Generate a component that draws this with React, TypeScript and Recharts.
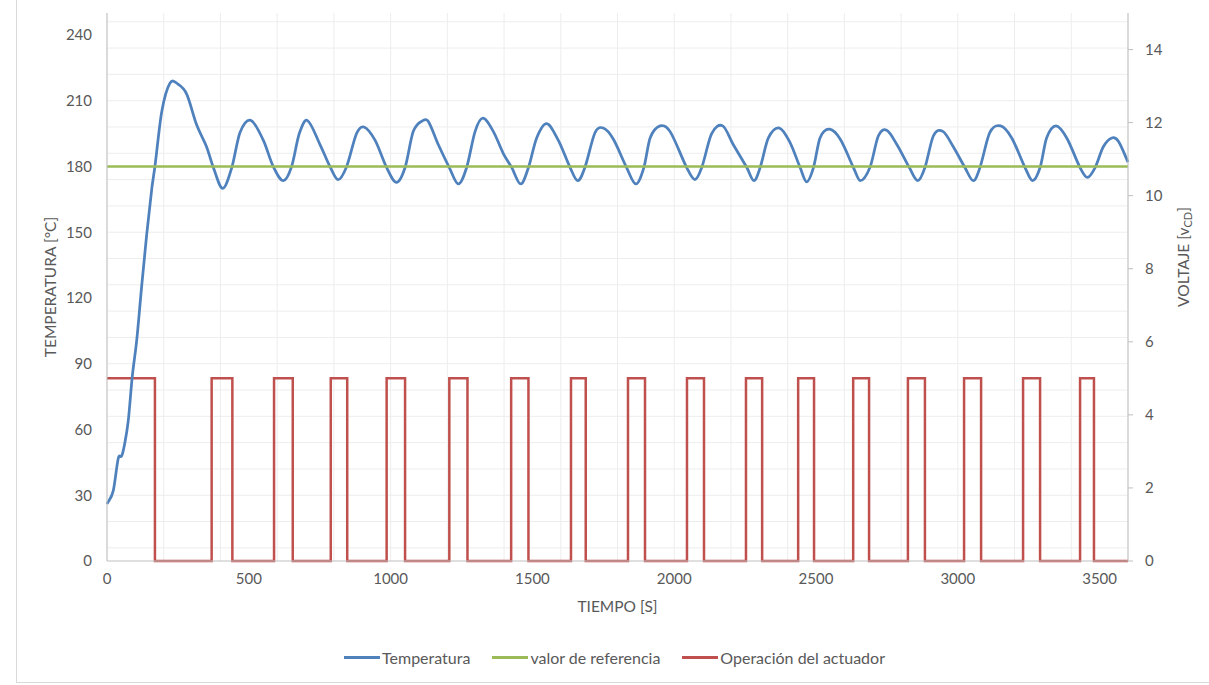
import React from "react";
import { LineChart, Line, XAxis, YAxis, CartesianGrid, Legend, Label } from "recharts";

// tiempo [s] y temperatura [°C]
const tempTime = [
  0, 22, 40, 52, 63, 75, 89, 105, 122, 140, 158, 169, 193, 222, 251, 281, 316, 351, 375, 408,
  440, 469, 507, 551, 586, 622, 651, 678, 706, 751, 786, 815, 845, 880, 906, 945, 986, 1021, 1051, 1080,
  1115, 1133, 1168, 1207, 1239, 1268, 1298, 1325, 1362, 1397, 1427, 1459, 1486, 1515, 1550, 1591, 1633, 1660, 1685, 1721,
  1750, 1785, 1832, 1865, 1893, 1915, 1950, 1985, 2044, 2073, 2097, 2132, 2171, 2208, 2256, 2281, 2303, 2332, 2371, 2408,
  2444, 2467, 2491, 2514, 2547, 2585, 2632, 2656, 2690, 2720, 2749, 2785, 2829, 2859, 2884, 2914, 2947, 2984, 3025, 3055,
  3078, 3113, 3151, 3190, 3237, 3264, 3290, 3313, 3346, 3384, 3431, 3457, 3484, 3513, 3543, 3566, 3600,
];
const tempValue = [
  26, 32, 47, 48, 54, 64, 84, 101, 125, 149, 170, 180, 205, 218, 217.5, 213, 199, 189, 179.5, 170,
  179.5, 195.5, 201, 192, 180, 173.5, 180, 195, 201, 190, 180, 174, 180, 195, 198, 192, 179.5, 172.7, 179.5, 196,
  201, 200.5, 190, 179.5, 172, 179.5, 196, 202, 196, 186, 179.5, 172, 179.5, 193, 199.5, 192, 179.5, 173.5, 179.5, 195.5,
  197.5, 192.5, 179.5, 172, 179.5, 193, 198.5, 196, 179.5, 174, 179.5, 195, 198.5, 190, 179.5, 173.5, 179.5, 193, 197.5, 191,
  179.5, 173, 179.5, 193, 197, 192.5, 179.5, 173.5, 179.5, 194, 196.5, 190, 179.5, 173.5, 179.5, 194, 196, 189, 179.5, 173.5,
  179.5, 195.5, 198.5, 193, 179.5, 173.5, 179.5, 193, 198.5, 193, 179.5, 175, 179.5, 189, 193, 191.5, 182,
];

const refTime = [0, 3600];
const refValue = [180, 180];

// actuador: instantes de cambio [s] y voltaje [V]
const actTime = [
  0, 169, 369, 442, 589, 655, 789, 847, 986, 1051, 1207, 1271, 1425, 1486, 1636, 1688, 1837, 1897,
  2045, 2105, 2253, 2310, 2437, 2493, 2631, 2687, 2824, 2884, 3022, 3082, 3230, 3290, 3431, 3480, 3600,
];
const actValue = [
  5, 0, 5, 0, 5, 0, 5, 0, 5, 0, 5, 0, 5, 0, 5, 0, 5, 0,
  5, 0, 5, 0, 5, 0, 5, 0, 5, 0, 5, 0, 5, 0, 5, 0, 0,
];

const xTicks = [0, 500, 1000, 1500, 2000, 2500, 3000, 3500];
const leftTicks = [0, 30, 60, 90, 120, 150, 180, 210, 240];
const rightTicks = [0, 2, 4, 6, 8, 10, 12, 14];

const gridX = Array.from({ length: 37 }, (_, i) => i * 100);
const gridY = Array.from({ length: 42 }, (_, i) => i * 6);

const tempData = tempTime.map((t, i) => ({ t, temp: tempValue[i] }));
const refData = refTime.map((t, i) => ({ t, ref: refValue[i] }));
const actData = actTime.map((t, i) => ({ t, act: actValue[i] }));

const BLUE = "#4f81bd";
const GREEN = "#9bbb59";
const RED = "#c0504d";
const TEXT = "#595959";
const FONT = "Lato, 'Open Sans', sans-serif";

const tick = { fill: TEXT, fontSize: 15, fontFamily: FONT };

// suavizado tipo Excel: spline de Hermite con tangentes centrales, sin recorte en extremos
const smoothCurve = (context: any) => {
  let xs: number[] = [];
  let ys: number[] = [];
  return {
    areaStart() {},
    areaEnd() {},
    lineStart() {
      xs = [];
      ys = [];
    },
    point(x: number, y: number) {
      xs.push(+x);
      ys.push(+y);
    },
    lineEnd() {
      const n = xs.length;
      if (!n) return;
      context.moveTo(xs[0], ys[0]);
      if (n === 1) return;
      const m = xs.map((_, i) => {
        if (i === 0) return (ys[1] - ys[0]) / (xs[1] - xs[0]);
        if (i === n - 1) return (ys[n - 1] - ys[n - 2]) / (xs[n - 1] - xs[n - 2]);
        return (ys[i + 1] - ys[i - 1]) / (xs[i + 1] - xs[i - 1]);
      });
      for (let i = 0; i < n - 1; i++) {
        const dx = xs[i + 1] - xs[i];
        context.bezierCurveTo(
          xs[i] + dx / 3, ys[i] + (m[i] * dx) / 3,
          xs[i + 1] - dx / 3, ys[i + 1] - (m[i + 1] * dx) / 3,
          xs[i + 1], ys[i + 1],
        );
      }
    },
  };
};

const legendItems = [
  { name: "Temperatura", color: BLUE },
  { name: "valor de referencia", color: GREEN },
  { name: "Operación del actuador", color: RED },
];

function LegendBox() {
  return (
    <div style={{ height: 24, display: "flex", justifyContent: "center", alignItems: "center", gap: 22, paddingLeft: 20, fontFamily: FONT, fontSize: 16, color: TEXT }}>
      {legendItems.map((it) => (
        <div key={it.name} style={{ display: "flex", alignItems: "center" }}>
          <span style={{ width: 36, height: 3, background: it.color, marginRight: 2 }} />
          <span>{it.name}</span>
        </div>
      ))}
    </div>
  );
}

const leftLabel = (props: any) => {
  const vb = props.viewBox;
  const cx = vb.x + 50;
  const cy = vb.y + vb.height / 2;
  return (
    <text x={cx} y={cy} transform={`rotate(-90, ${cx}, ${cy})`} textAnchor="middle" dominantBaseline="central" fill={TEXT} fontSize={15.5} fontFamily={FONT}>
      TEMPERATURA [°C]
    </text>
  );
};

const rightLabel = (props: any) => {
  const vb = props.viewBox;
  const cx = vb.x + 55;
  const cy = vb.y + vb.height / 2 - 30;
  return (
    <text x={cx} y={cy} transform={`rotate(-90, ${cx}, ${cy})`} textAnchor="middle" dominantBaseline="central" fill={TEXT} fontSize={15.5} fontFamily={FONT}>
      VOLTAJE [v<tspan fontSize={11} dy={4}>CD</tspan><tspan dy={-4}>]</tspan>
    </text>
  );
};

export default function App() {
  return (
    <div style={{ position: "absolute", left: 0, top: 0, width: 1209, height: 685, background: "#fff" }}>
      <div style={{ position: "absolute", left: 16, top: -1, width: 1210, height: 684, border: "1px solid #d9d9d9", boxSizing: "border-box" }} />
      <div style={{ position: "absolute", left: 0, top: 0 }}>
        <LineChart width={1209} height={685} margin={{ top: 13, right: 0, left: 0, bottom: 16 }}>
          <CartesianGrid yAxisId="left" stroke="#ededed" strokeWidth={1} verticalValues={gridX} horizontalValues={gridY} />
          <XAxis
            dataKey="t"
            type="number"
            domain={[0, 3600]}
            ticks={xTicks}
            allowDuplicatedCategory={false}
            height={84}
            stroke="#bfbfbf"
            tickLine={false}
            tickSize={0}
            tickMargin={12}
            tick={tick}
          >
            <Label value="TIEMPO [S]" position="insideBottom" offset={33} fill={TEXT} fontSize={15.5} fontFamily={FONT} />
          </XAxis>
          <YAxis
            yAxisId="left"
            domain={[0, 250]}
            ticks={leftTicks}
            width={107}
            stroke="#bfbfbf"
            tickLine={false}
            tickSize={0}
            tickMargin={15}
            tick={tick}
          >
            <Label content={leftLabel} />
          </YAxis>
          <YAxis
            yAxisId="right"
            orientation="right"
            domain={[0, 15]}
            ticks={rightTicks}
            width={81}
            stroke="#bfbfbf"
            tickSize={5}
            tickMargin={12}
            tick={tick}
          >
            <Label content={rightLabel} />
          </YAxis>
          <Legend verticalAlign="bottom" content={() => <LegendBox />} />
          <Line yAxisId="right" data={actData} dataKey="act" name="Operación del actuador" type="stepAfter" stroke={RED} strokeWidth={2.5} dot={false} isAnimationActive={false} />
          <Line yAxisId="left" data={tempData} dataKey="temp" name="Temperatura" type={smoothCurve as any} stroke={BLUE} strokeWidth={2.75} dot={false} isAnimationActive={false} />
          <Line yAxisId="left" data={refData} dataKey="ref" name="valor de referencia" type="linear" stroke={GREEN} strokeWidth={2.5} dot={false} isAnimationActive={false} />
        </LineChart>
      </div>
    </div>
  );
}
